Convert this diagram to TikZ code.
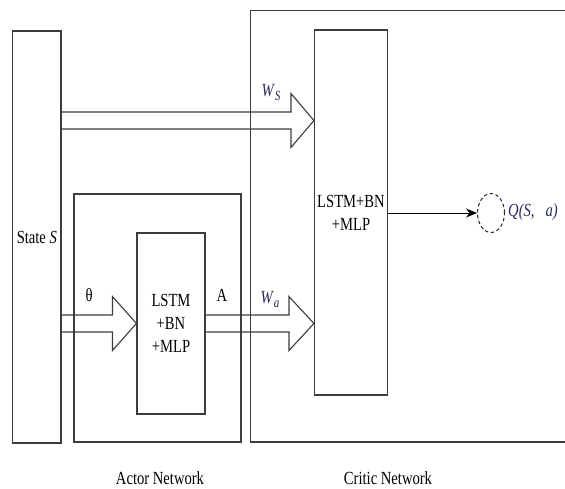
\documentclass[tikz,border=0pt]{standalone}
\usepackage{fontspec}
\setmainfont{Liberation Serif}[FakeStretch=0.79]
\usetikzlibrary{arrows.meta,calc,shapes.geometric}
\definecolor{navy}{RGB}{40,40,90}
\definecolor{linec}{RGB}{60,60,60}
\newcommand\subsc[1]{\raisebox{-4pt}{\fontsize{14}{14}\selectfont\textit{#1}}}
\begin{document}
\begin{tikzpicture}[x=1pt,y=-1pt,
  txt/.style={font=\fontsize{18.5}{23}\selectfont},
  box/.style={draw=linec, line width=1.1pt, rectangle, inner sep=0pt, align=center, txt},
  lbl/.style={inner sep=0pt, txt},
  blk/.style={draw=linec, line width=1.1pt, line join=miter},
  outarrow/.style={draw=black, line width=1pt, -{Stealth[length=11pt,width=9pt]}}
]
\useasboundingbox (0,0) rectangle (565,488);
\clip (0,0) rectangle (565,488);
% boxes
\node[box, minimum width=48.3pt, minimum height=412pt] (state) at (36.85,237) {State \textit{S}};
\node[box, minimum width=167pt, minimum height=248pt] (actor) at (157.5,318) {};
\node[box, minimum width=68pt, minimum height=181pt] (ainner) at (171,323.5) {LSTM\\+BN\\+MLP};
\node[box, minimum width=329.3pt, minimum height=431.7pt] (critic) at (415.35,226.15) {};
\node[box, minimum width=73pt, minimum height=365pt] (cinner) at (351,212.5) {LSTM+BN\\+MLP};
% output
\node[draw=black!85, dashed, dash pattern=on 3.5pt off 2.5pt, line width=1pt, ellipse, minimum width=27pt, minimum height=39pt, inner sep=0pt] (q) at (491,213) {};
\node[lbl, anchor=west, text=navy] (qlbl) at (508,212) {\textit{Q(S,~~~a)}};
\draw[outarrow] (cinner.east |- q.center) -- (q.west);
% block arrows
\newcommand\blockarrow[3]{%
  \draw[blk] let \p1=(#1), \p2=(#2) in
   (\x1,\y2+8.5pt) -- (\x2-#3,\y2+8.5pt) -- (\x2-#3,\y2+27pt) -- (\x2,\y2)
   -- (\x2-#3,\y2-27pt) -- (\x2-#3,\y2-8.5pt) -- (\x1,\y2-8.5pt);}
\coordinate (wsend) at (cinner.west |- 0,120.5);
\coordinate (thend) at (ainner.west |- 0,323.5);
\coordinate (waend) at (cinner.west |- 0,323.5);
\blockarrow{state.east}{wsend}{23pt}
\blockarrow{state.east}{thend}{24pt}
\blockarrow{ainner.east}{waend}{25pt}
% labels
\node[lbl, text=navy] (ws) at (271,93) {\textit{W}\subsc{S}};
\node[lbl] (theta) at (89,295) {θ};
\node[lbl] (alab) at (222,295) {A};
\node[lbl, text=navy] (wa) at (270,300) {\textit{W}\subsc{a}};
\node[lbl] (actname) at (160,478) {Actor Network};
\node[lbl] (critname) at (388,478) {Critic Network};
\end{tikzpicture}
\end{document}
